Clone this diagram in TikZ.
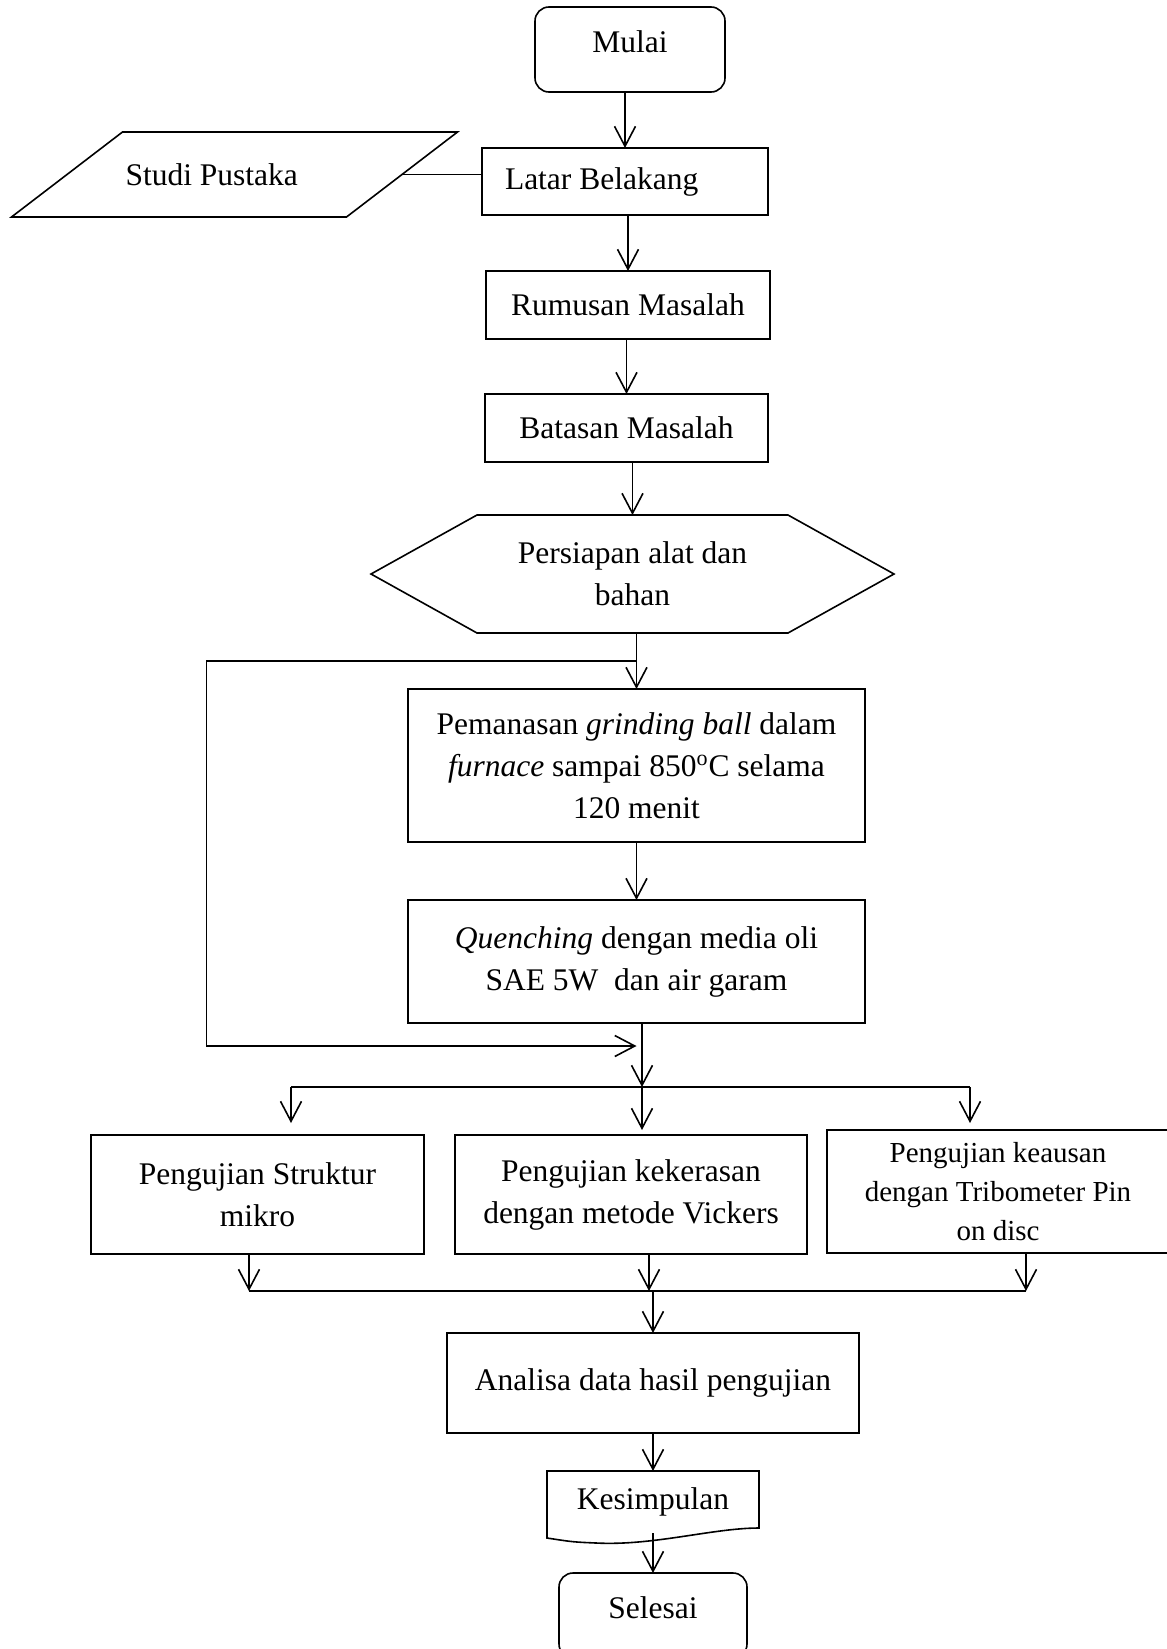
\documentclass[tikz,border=0pt]{standalone}
\usepackage{fontspec}
\setmainfont{Liberation Serif}
\usetikzlibrary{arrows.meta,positioning,calc}
\tikzset{
  base/.style={font=\fontsize{15.75}{21}\selectfont, align=center,
               inner sep=0pt, outer sep=0pt, line width=0.8pt},
  procbox/.style={base, draw, rectangle, minimum width=#1},
  procbox/.default=140pt,
  termbox/.style={base, draw, rounded corners=7pt, minimum width=95pt,
                  minimum height=42.5pt, text height=10.8pt, text depth=8pt},
  plainnode/.style={base},
  ln/.style={line width=0.8pt},
  arr/.style={-{Straight Barb[length=10pt,width=10.5pt]}, line width=0.8pt},
}
\begin{document}
\begin{tikzpicture}[x=0.5pt, y=-0.5pt]
  \useasboundingbox (0,0) rectangle (1167,1649);

  \node[termbox] (mulai) at (630,49.5) {Mulai};
  \node[procbox=143pt, minimum height=33.5pt, text width=120pt,
        align=flush left, inner xsep=11.5pt, below=28pt of mulai,
        xshift=-2.5pt] (latar) {Latar Belakang};
  \node[plainnode, text width=109pt, align=flush left, inner xsep=29.25pt,
        minimum height=42.5pt, left=40pt of latar, yshift=3.5pt] (studi)
        {Studi Pustaka};
  \node[procbox=142pt, minimum height=34pt, below=28pt of latar,
        xshift=1.5pt] (rumusan) {Rumusan Masalah};
  \node[procbox=141.5pt, minimum height=34pt, below=27.5pt of rumusan,
        xshift=-0.75pt] (batasan) {Batasan Masalah};
  \node[plainnode, minimum width=155.5pt, minimum height=59pt,
        below=26.5pt of batasan, xshift=3pt] (persiapan)
        {Persiapan alat dan\\bahan};
  \node[procbox=228.5pt, minimum height=76.5pt, below=28pt of persiapan,
        xshift=2pt] (pemanasan)
        {Pemanasan \textit{grinding ball} dalam\\
         \textit{furnace} sampai 850\textsuperscript{o}C selama\\
         120 menit};
  \node[procbox=228.5pt, minimum height=61.5pt, below=29pt of pemanasan]
        (quenching) {\textit{Quenching} dengan media oli\\SAE 5W~ dan air garam};

  \node[procbox=176pt, minimum height=59.5pt, below=56pt of quenching,
        xshift=-2.75pt] (vickers) {Pengujian kekerasan\\dengan metode Vickers};
  \node[procbox=166.5pt, minimum height=59.5pt, left=15.5pt of vickers]
        (struktur) {Pengujian Struktur\\mikro};
  \node[procbox=171pt, minimum height=61.5pt, right=10pt of vickers,
        yshift=1.5pt, font=\fontsize{14.5}{19.5}\selectfont] (keausan)
        {Pengujian keausan\\dengan Tribometer Pin\\on disc};

  \node[procbox=206pt, minimum height=50pt, below=39.5pt of vickers,
        xshift=11pt] (analisa) {Analisa data hasil pengujian};
  \node[plainnode, minimum width=106pt, minimum height=31pt,
        below=19pt of analisa] (kesimpulan) {Kesimpulan};
  \node[termbox, minimum width=94pt, below=20pt of kesimpulan] (selesai)
        {Selesai};

  % shapes drawn round their text
  \draw[ln] ([xshift=27.75pt]studi.north west) -- ([xshift=27.75pt]studi.north east)
        -- ([xshift=-27.75pt]studi.south east) -- ([xshift=-27.75pt]studi.south west)
        -- cycle;
  \draw[ln] (persiapan.north west) -- (persiapan.north east)
        -- ([xshift=53pt]persiapan.east) -- (persiapan.south east)
        -- (persiapan.south west) -- ([xshift=-53pt]persiapan.west) -- cycle;
  \draw[ln, shift={(kesimpulan.center)}] (-106,-31) -- (106,-31) -- (106,26)
        .. controls (60,26) and (0,44) .. (-57,41)
        .. controls (-80,40) .. (-106,36) -- cycle;

  % helper points
  \coordinate (loopin) at ([yshift=14pt]pemanasan.north);
  \coordinate[left=215pt of loopin] (loopl);
  \coordinate (split) at ([xshift=2.75pt,yshift=-32pt]quenching.south);
  \coordinate (loopout) at ([yshift=-11.5pt]quenching.south);
  \coordinate (sl) at ([xshift=16.75pt]struktur.north);
  \coordinate (sr) at ([xshift=-14pt]keausan.north);
  \coordinate (merge) at ([yshift=21pt]analisa.north);
  \coordinate (ml) at ([xshift=-4.25pt]struktur.south);
  \coordinate (mm) at ([xshift=9pt]vickers.south);
  \coordinate (mr) at ([xshift=14pt]keausan.south);

  \draw[arr] (latar.north |- mulai.south) -- (latar.north);
  \draw[ln] (studi.east) -- (studi.east -| latar.west);
  \draw[arr] (rumusan.north |- latar.south) -- (rumusan.north);
  \draw[arr] (batasan.north |- rumusan.south) -- (batasan.north);
  \draw[arr] (persiapan.north |- batasan.south) -- (persiapan.north);
  \draw[arr] (pemanasan.north |- persiapan.south) -- (pemanasan.north);
  \draw[arr] (pemanasan) -- (quenching);
  \draw[arr] (loopin) -- (loopl) |- (loopout);
  \draw[arr] (split |- quenching.south) -- (split);
  \draw[ln] (split -| sl) -- (split -| sr);
  \draw[arr] (split -| sl) -- ([yshift=6pt]sl);
  \draw[arr] (split) -- ([yshift=2.5pt]split |- vickers.north);
  \draw[arr] (split -| sr) -- ([yshift=3.5pt]sr);
  \draw[arr] (ml) -- (ml |- merge); \draw[arr] (mm) -- (mm |- merge);
  \draw[arr] (mr) -- (mr |- merge);
  \draw[ln] (ml |- merge) -- (mr |- merge);
  \draw[arr] (merge) -- (analisa.north);
  \draw[arr] (analisa) -- (kesimpulan);
  \draw[arr] (kesimpulan) -- (selesai);
\end{tikzpicture}
\end{document}
